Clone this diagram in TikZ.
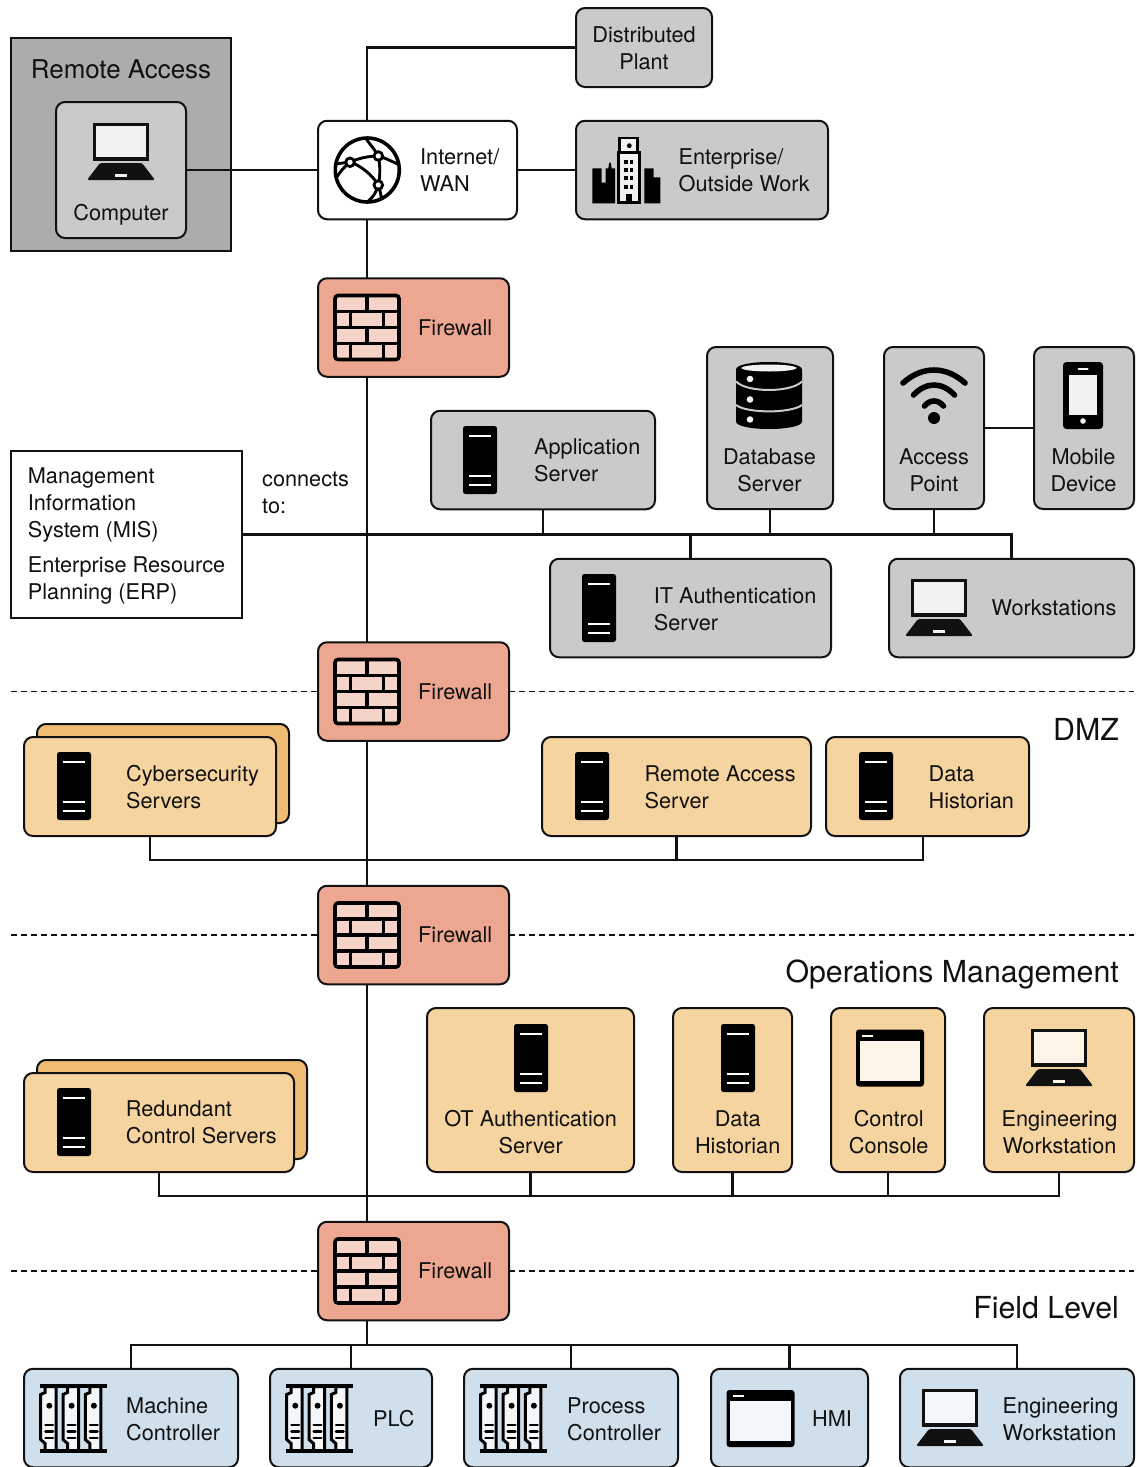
\documentclass[tikz,border=0pt]{standalone}
\usepackage{fontspec}
\setmainfont{TeX Gyre Heros}
\definecolor{inkblack}{HTML}{111111}
\definecolor{zonegray}{HTML}{ABACAE}
\definecolor{boxgray}{HTML}{C9CACC}
\definecolor{boxred}{HTML}{EDA791}
\definecolor{boxorange}{HTML}{F5D4A0}
\definecolor{boxorangeback}{HTML}{EFBC74}
\definecolor{boxblue}{HTML}{CFDFEC}
\definecolor{palegray}{HTML}{F1F2F2}
\definecolor{paleorange}{HTML}{FDF4E8}
\definecolor{paleblue}{HTML}{F3F7FA}
\definecolor{palered}{HTML}{F6D3C8}
\tikzset{
  unit/.style={draw=inkblack, line width=2pt, rounded corners=9pt, inner sep=0pt, outer sep=0pt},
  graybox/.style={unit, fill=boxgray},
  whitebox/.style={unit, fill=white},
  redbox/.style={unit, fill=boxred, minimum width=191pt, minimum height=98.5pt},
  orangebox/.style={unit, fill=boxorange},
  backbox/.style={unit, fill=boxorangeback},
  bluebox/.style={unit, fill=boxblue, minimum height=98.5pt},
  wire/.style={draw=inkblack, line width=2.5pt},
  zoneline/.style={draw=inkblack, line width=1.5pt, dash pattern=on 6pt off 4pt},
  lbl/.style={anchor=west, align=left, inner sep=0pt, text=inkblack, font=\fontsize{21.7}{27}\selectfont},
  ctr/.style={anchor=center, align=center, inner sep=0pt, text=inkblack, font=\fontsize{21.7}{27}\selectfont},
  zonetitle/.style={anchor=east, inner sep=0pt, text=inkblack, font=\fontsize{30.3}{36}\selectfont},
  pics/laptop/.style={code={
    \draw[inkblack, line width=3.2pt, fill=#1] (-26.5,-27.5) rectangle (26.5,7);
    \fill[inkblack, rounded corners=1.5pt] (-21,11) -- (21,11) -- (34,28) -- (-34,28) -- cycle;
    \draw[#1, line width=3pt] (-6,23) -- (6,23);
  }},
  pics/tower/.style={code={
    \fill[black, rounded corners=2.5pt] (-17,-34) rectangle (17,34);
    \foreach \y in {-24,16,25} {\draw[white, line width=2.6pt] (-11,\y) -- (11,\y);}
  }},
  pics/window/.style={code={
    \fill[black, rounded corners=3pt] (-34,-28.5) rectangle (34,28.5);
    \fill[#1] (-30.3,-17.2) rectangle (30.3,22.5);
    \draw[#1, line width=2pt] (-28,-22.5) -- (-17,-22.5);
  }},
  pics/rack/.style={code={
    \foreach \cx in {-32.8,-10.5,11.8} {
      \begin{scope}[xshift=\cx pt]
        \draw[black, line width=3pt, fill=#1] (4.5,-32) -- (4.5,-26) -- (0,-24) -- (0,21) -- (4.5,25) -- (4.5,32) -- (15.5,32) -- (15.5,-32) -- cycle;
        \fill[black] (8.6,-12.8) circle (3pt);
        \foreach \y in {6.5,13,19.5} {\draw[black, line width=2.8pt, line cap=round] (4.8,\y) -- (12.2,\y);}
      \end{scope}
    }
    \draw[black, line width=3.2pt] (-33.5,-32.5) -- (33.5,-32.5) (-33.5,32.5) -- (33.5,32.5);
  }},
  pics/wall/.style={code={
    \draw[black, line width=3.6pt, fill=palered, rounded corners=3pt] (-32,-32) rectangle (32,32);
    \foreach \y in {-16,0,16} {\draw[black, line width=3.6pt] (-32,\y) -- (32,\y);}
    \foreach \y in {-32,0} {\draw[black, line width=3.6pt] (0,\y) -- (0,\y+16);}
    \foreach \y in {-16,16} {\draw[black, line width=3.6pt] (-16.5,\y) -- (-16.5,\y+16) (16.5,\y) -- (16.5,\y+16);}
  }},
  pics/globe/.style={code={
    \draw[black, line width=3.6pt] (0,0) circle (32pt);
    \begin{scope}[black, line width=2.9pt]
      \draw (-1,-31) .. controls (3,-25) and (8,-20) .. (11,-14);
      \draw (11,-14) .. controls (13,-4) and (13,6) .. (11,15);
      \draw (11,15) .. controls (9,22) and (6,27) .. (1,31);
      \draw (11,15) .. controls (13,21) and (14,26) .. (14,29);
      \draw (-32,-6) -- (-17,-8) .. controls (-8,-12) and (2,-14) .. (11,-14) .. controls (18,-12) and (24,-9) .. (30,-6);
      \draw (-31,8) .. controls (-27,1) and (-23,-3) .. (-17,-8) .. controls (-6,-4) and (5,5) .. (11,15);
    \end{scope}
    \foreach \p in {(-17.3,-7.7),(11,-14),(11,15)} {\draw[black, line width=2.8pt, fill=white] \p circle (4.3pt);}
  }},
  pics/building/.style={code={
    \fill[black] (-33.7,-1.7) -- (-24.3,-1.7) -- (-24.3,12.7) -- (-20.3,12.7) -- (-20.3,-1.7) -- (-17.7,-1.7) -- (-16.7,-7.3) -- (-15.3,-7.3) -- (-14.3,-1.7) -- (-11,-1.7) -- (-11,33.3) -- (-33.7,33.3) -- cycle;
    \fill[black] (18.3,-1.7) -- (27.7,-1.7) -- (27.7,7.3) -- (34.3,7.3) -- (34.3,33.3) -- (18.3,33.3) -- cycle;
    \draw[black, line width=2.8pt, fill=#1] (-6.5,-32) rectangle (11.5,-17.5);
    \fill[black] (3.3,-24.3) circle (2.4pt);
    \draw[black, line width=2.8pt, fill=#1] (-7.5,-17.5) rectangle (13.5,32.5);
    \foreach \y in {-8.3,0,8.3,16.7} {
      \fill[black] (-0.3,\y) ++(-1.8,-2) rectangle ++(3.6,4);
      \fill[black] (5.4,\y) ++(-1.8,-2) rectangle ++(3.6,4);
    }
    \fill[black] (-0.2,32) rectangle (5.8,24);
  }},
  pics/cylinders/.style={code={
    \fill[black] (-33,-26) .. controls (-33,-36) and (33,-36) .. (33,-26) -- (33,26) .. controls (33,36) and (-33,36) .. (-33,26) -- cycle;
    \fill[#1] (0,-27.5) ellipse (27.5pt and 3.5pt);
    \draw[boxgray, line width=2pt] (-33,-14) .. controls (-22,-2.7) and (22,-2.7) .. (33,-14);
    \draw[boxgray, line width=2pt] (-33,9.5) .. controls (-22,18) and (22,18) .. (33,9.5);
    \foreach \y in {-16.5,4,24} {\fill[#1] (-19,\y) circle (3.3pt);}
  }},
  pics/wifi/.style={code={
    \begin{scope}[black, line width=5.6pt, line cap=round]
      \draw (-31,-12) .. controls (-12,-29.3) and (12,-29.3) .. (31,-12);
      \draw (-20.5,0) .. controls (-8,-13.3) and (8,-13.3) .. (20.5,0);
      \draw (-9.5,11) .. controls (-4,4.3) and (4,4.3) .. (9.5,11);
    \end{scope}
    \fill[black] (0,23) circle (6pt);
  }},
  pics/phone/.style={code={
    \fill[black, rounded corners=3.5pt] (-20,-33.5) rectangle (20,33.5);
    \fill[#1] (-14.3,-20.5) rectangle (14.3,19.5);
    \draw[#1, line width=2pt, line cap=round] (-4.5,-27) -- (4.5,-27);
    \fill[#1] (0,25.5) circle (2.8pt);
  }},
}
\begin{document}
\begin{tikzpicture}[x=1pt, y=-1pt]
  \useasboundingbox (0,0) rectangle (1137,1467);
  \begin{scope}
    \clip (0,0) rectangle (1137,1467);

    % Helpers for the spine, the zone lines and the buses
    \coordinate (spine) at (367,0);
    \coordinate (zoneleft) at (11,0);
    \coordinate (zoneright) at (1134,0);
    \coordinate (busdmz) at (0,860);
    \coordinate (busops) at (0,1196);
    \coordinate (busfield) at (0,1345);

    % Top group
    \node[draw=inkblack, line width=2pt, fill=zonegray, minimum width=220pt, minimum height=213pt, inner sep=0pt, outer sep=0pt] (remote) at (121,144.5) {};
    \node[graybox, minimum width=130pt, minimum height=136pt] (computer) at (121,170) {};
    \node[whitebox, minimum width=199pt, minimum height=98.5pt] (wan) at (417.5,170) {};
    \node[graybox, minimum width=136pt, minimum height=79pt] (plant) at (644,47.5) {};
    \node[graybox, minimum width=252pt, minimum height=98.5pt] (enterprise) at (702,170) {};

    % Firewalls
    \foreach \nm/\y in {fwa/327.5, fwb/691.5, fwc/935, fwd/1271} {
      \node[redbox] (\nm) at (413.5,\y) {};
      \pic at (367,\y) {wall};
      \node[lbl] (\nm txt) at (418,\y) {Firewall};
    }

    % Enterprise zone
    \node[graybox, minimum width=224pt, minimum height=98.5pt] (appsrv) at (543,460) {};
    \node[graybox, minimum width=126pt, minimum height=162pt] (dbsrv) at (770,428) {};
    \node[graybox, minimum width=100pt, minimum height=162pt] (apnt) at (934,428) {};
    \node[graybox, minimum width=100pt, minimum height=162pt] (mobile) at (1084,428) {};
    \node[graybox, minimum width=281pt, minimum height=98.5pt] (itauth) at (690.5,608) {};
    \node[graybox, minimum width=245pt, minimum height=98.5pt] (wks) at (1011.5,608) {};
    \node[draw=inkblack, line width=2pt, fill=white, minimum width=231pt, minimum height=167pt, inner sep=0pt, outer sep=0pt] (mis) at (126.5,534.5) {};

    % DMZ
    \node[backbox, minimum width=252pt, minimum height=99pt] (cyberback) at (163,773.5) {};
    \node[orangebox, minimum width=252pt, minimum height=99pt] (cyber) at (150,786.5) {};
    \node[orangebox, minimum width=269pt, minimum height=99pt] (remsrv) at (676.5,786.5) {};
    \node[orangebox, minimum width=203pt, minimum height=99pt] (dmzhist) at (927.5,786.5) {};
    \coordinate (dmzdrop) at ([xshift=-4.5pt]dmzhist.south);

    % Operations Management
    \node[backbox, minimum width=270pt, minimum height=99pt] (redback) at (172,1109.5) {};
    \node[orangebox, minimum width=270pt, minimum height=99pt] (redund) at (159,1122.5) {};
    \node[orangebox, minimum width=207pt, minimum height=164pt] (otauth) at (530.5,1090) {};
    \node[orangebox, minimum width=119pt, minimum height=164pt] (opshist) at (732.5,1090) {};
    \node[orangebox, minimum width=114pt, minimum height=164pt] (console) at (888,1090) {};
    \node[orangebox, minimum width=150pt, minimum height=164pt] (opseng) at (1059,1090) {};

    % Field Level
    \node[bluebox, minimum width=214pt] (machine) at (131,1418) {};
    \node[bluebox, minimum width=162pt] (plc) at (351,1418) {};
    \node[bluebox, minimum width=214pt] (process) at (571,1418) {};
    \node[bluebox, minimum width=157pt] (hmi) at (789.5,1418) {};
    \node[bluebox, minimum width=234pt] (fieldeng) at (1017,1418) {};

    % Spine and side links
    \draw[wire] (computer.east) -- (wan.west);
    \draw[wire] (wan.east) -- (enterprise.west);
    \draw[wire] (plant.west) -| (spine |- wan.north);
    \draw[wire] (spine |- wan.south) -- (spine |- fwa.north);
    \draw[wire] (spine |- fwa.south) -- (spine |- fwb.north);
    \draw[wire] (spine |- fwb.south) -- (spine |- fwc.north);
    \draw[wire] (spine |- fwc.south) -- (spine |- fwd.north);
    \draw[wire] (spine |- fwd.south) -- (spine |- busfield);
    \draw[wire] (apnt.east) -- (mobile.west);

    % Buses
    \draw[wire] (mis.east) -| (wks.north);
    \foreach \nm in {appsrv, dbsrv, apnt} {\draw[wire] (\nm.south) -- (\nm.south |- mis.east);}
    \draw[wire] (itauth.north) -- (itauth.north |- mis.east);
    \draw[wire] (cyber.south) |- (dmzdrop |- busdmz) -- (dmzdrop);
    \draw[wire] (remsrv.south) -- (remsrv.south |- busdmz);
    \draw[wire] (redund.south) |- (opseng.south |- busops) -- (opseng.south);
    \foreach \nm in {otauth, opshist, console} {\draw[wire] (\nm.south) -- (\nm.south |- busops);}
    \draw[wire] (machine.north) |- (fieldeng.north |- busfield) -- (fieldeng.north);
    \foreach \nm in {plc, process, hmi} {\draw[wire] (\nm.north) -- (\nm.north |- busfield);}

    % Zone lines
    \foreach \nm in {fwb, fwc, fwd} {
      \draw[zoneline] (zoneleft |- \nm.west) -- (\nm.west);
      \draw[zoneline] (\nm.east) -- (zoneright |- \nm.east);
    }

    % Icons
    \pic at (121,152) {laptop=palegray};
    \pic at (939,608) {laptop=palegray};
    \pic at (1059,1058) {laptop=paleorange};
    \pic at (950,1418) {laptop=paleblue};
    \foreach \x/\y in {480/460, 599/608} {\pic at (\x,\y) {tower};}
    \foreach \x/\y in {74/786, 592/786, 876/786, 74/1122, 531/1058, 738/1058} {\pic at (\x,\y) {tower};}
    \pic at (890,1058) {window=paleorange};
    \pic at (760.5,1418.5) {window=paleblue};
    \foreach \x in {73.5, 319.5, 513.5} {\pic at (\x,1418.5) {rack=paleblue};}
    \pic at (367.3,170) {globe};
    \pic at (626,170) {building=palegray};
    \pic at (769,395.5) {cylinders=palegray};
    \pic at (934,395) {wifi};
    \pic at (1083,395.5) {phone=palegray};

    % Labels
    \node[ctr, font=\fontsize{25.9}{30}\selectfont] (remotetxt) at (121,69) {Remote Access};
    \node[ctr] (computertxt) at (121,215) {Computer};
    \node[lbl] (wantxt) at (420,170) {Internet/\\WAN};
    \node[ctr] (planttxt) at (644,48.5) {Distributed\\Plant};
    \node[lbl] (enterprisetxt) at (678.5,170) {Enterprise/\\Outside Work};
    \node[lbl] (apptxt) at (534,460) {Application\\Server};
    \node[ctr] (dbtxt) at (769.5,470) {Database\\Server};
    \node[ctr] (aptxt) at (934,470) {Access\\Point};
    \node[ctr] (mobiletxt) at (1083.5,470) {Mobile\\Device};
    \node[lbl] (ittxt) at (653.7,609) {IT Authentication\\Server};
    \node[lbl] (wkstxt) at (991.5,608) {Workstations};
    \node[lbl] (connecttxt) at (262,493) {connects\\to:};
    \node[lbl] (mistxt) at (27.7,535.8) {Management\\Information\\System (MIS)\\[8pt]Enterprise Resource\\Planning (ERP)};
    \node[zonetitle] (dmztxt) at (1119,729) {DMZ};
    \node[lbl] (cybertxt) at (126,787.5) {Cybersecurity\\Servers};
    \node[lbl] (remsrvtxt) at (644.5,787.5) {Remote Access\\Server};
    \node[lbl] (dmzhisttxt) at (928.4,787.5) {Data\\Historian};
    \node[zonetitle] (opstxt) at (1119,974) {Operations Management};
    \node[lbl] (redundtxt) at (125.7,1122.5) {Redundant\\Control Servers};
    \node[ctr] (otauthtxt) at (530.7,1132) {OT Authentication\\Server};
    \node[ctr] (opshisttxt) at (737.7,1132) {Data\\Historian};
    \node[ctr] (consoletxt) at (888.7,1132) {Control\\Console};
    \node[ctr] (opsengtxt) at (1059.5,1132) {Engineering\\Workstation};
    \node[zonetitle] (fieldtxt) at (1119,1308) {Field Level};
    \node[lbl] (machinetxt) at (126,1419) {Machine\\Controller};
    \node[lbl] (plctxt) at (373,1419) {PLC};
    \node[lbl] (processtxt) at (567,1419) {Process\\Controller};
    \node[lbl] (hmitxt) at (812,1419) {HMI};
    \node[lbl] (fieldengtxt) at (1002.5,1419) {Engineering\\Workstation};
  \end{scope}
\end{tikzpicture}
\end{document}
